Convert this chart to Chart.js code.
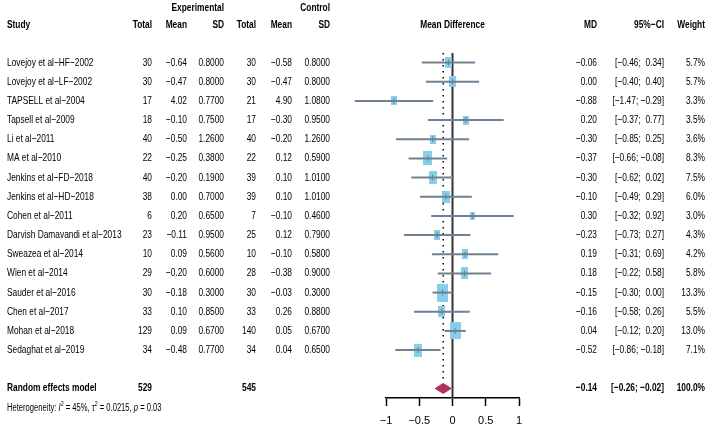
<!DOCTYPE html>
<html>
<head>
<meta charset="utf-8">
<script src="https://cdn.jsdelivr.net/npm/chart.js@4/dist/chart.umd.min.js"></script>
<style>
  body { margin: 0; background: #fff; }
  #wrap { width: 708px; height: 428px; }
</style>
</head>
<body>
<div id="wrap"><canvas id="forest" width="708" height="428"></canvas></div>
<script>
// study level data
const studies = ['Lovejoy et al\u2212HF\u22122002', 'Lovejoy et al\u2212LF\u22122002', 'TAPSELL et al\u22122004', 'Tapsell et al\u22122009',
  'Li et al\u22122011', 'MA et al\u22122010', 'Jenkins et al\u2212FD\u22122018', 'Jenkins et al\u2212HD\u22122018', 'Cohen et al\u22122011',
  'Darvish Damavandi et al\u22122013', 'Sweazea et al\u22122014', 'Wien et al\u22122014', 'Sauder et al\u22122016', 'Chen et al\u22122017',
  'Mohan et al\u22122018', 'Sedaghat et al\u22122019'];
const expTotal = [30, 30, 17, 18, 40, 22, 40, 38, 6, 23, 10, 29, 30, 33, 129, 34];
const expMean = [-0.64, -0.47, 4.02, -0.10, -0.50, -0.25, -0.20, 0.00, 0.20, -0.11, 0.09, -0.20, -0.18, 0.10, 0.09, -0.48];
const expSD = [0.80, 0.80, 0.77, 0.75, 1.26, 0.38, 0.19, 0.70, 0.65, 0.95, 0.56, 0.60, 0.30, 0.85, 0.67, 0.77];
const ctlTotal = [30, 30, 21, 17, 40, 22, 39, 39, 7, 25, 10, 28, 30, 33, 140, 34];
const ctlMean = [-0.58, -0.47, 4.90, -0.30, -0.20, 0.12, 0.10, 0.10, -0.10, 0.12, -0.10, -0.38, -0.03, 0.26, 0.05, 0.04];
const ctlSD = [0.80, 0.80, 1.08, 0.95, 1.26, 0.59, 1.01, 1.01, 0.46, 0.79, 0.58, 0.90, 0.30, 0.88, 0.67, 0.65];
const md = [-0.06, 0.00, -0.88, 0.20, -0.30, -0.37, -0.30, -0.10, 0.30, -0.23, 0.19, 0.18, -0.15, -0.16, 0.04, -0.52];
const ciLow = [-0.46, -0.40, -1.47, -0.37, -0.85, -0.66, -0.62, -0.49, -0.32, -0.73, -0.31, -0.22, -0.30, -0.58, -0.12, -0.86];
const ciHigh = [0.34, 0.40, -0.29, 0.77, 0.25, -0.08, 0.02, 0.29, 0.92, 0.27, 0.69, 0.58, 0.00, 0.26, 0.20, -0.18];
const weight = [5.7, 5.7, 3.3, 3.5, 3.6, 8.3, 7.5, 6.0, 3.0, 4.3, 4.2, 5.8, 13.3, 5.5, 13.0, 7.1];

// random effects summary
const pooledMD = -0.14;
const pooledLow = -0.26;
const pooledHigh = -0.02;
const xTicks = [-1, -0.5, 0, 0.5, 1];

const summaryRow = studies.length + 1;
const rows = studies.map((s, i) => i);

const FONT = '"Liberation Sans", Arial, sans-serif';
const SQUEEZE = 0.76; // the figure text is condensed
const ciColor = '#6f8192';
const boxColor = '#87ceeb';

const minus = s => s.replace(/-/g, '\u2212');
const f = (v, d) => minus(v.toFixed(d));
const ci = (lo, hi) => '[' + f(lo, 2) + '; ' + (hi >= 0 ? ' ' : '') + f(hi, 2) + ']';

// boxes are a bit taller than wide in the figure, so make little canvases for them
const boxImage = w => {
  const c = document.createElement('canvas');
  c.width = Math.max(3, Math.round(3.1 * Math.sqrt(w)));
  c.height = Math.max(4, Math.round(4.8 * Math.sqrt(w)));
  const g = c.getContext('2d');
  g.fillStyle = boxColor;
  g.fillRect(0, 0, c.width, c.height);
  return c;
};

// CI whiskers, one small line per study
const ciSets = rows.map(i => ({
  type: 'line',
  data: [{ x: ciLow[i], y: i }, { x: ciHigh[i], y: i }],
  borderColor: ciColor,
  borderWidth: 2,
  pointRadius: 0,
  clip: false,
  order: 1
}));

const textPlugin = {
  id: 'forestText',
  afterDraw(chart) {
    const ctx = chart.ctx;
    const y = chart.scales.y;
    const x = chart.scales.x;
    const put = (str, px, row, align, bold, size) => {
      ctx.save();
      ctx.font = (bold ? 'bold ' : '') + (size || 11) + 'px ' + FONT;
      ctx.textAlign = align;
      ctx.textBaseline = 'middle';
      ctx.fillStyle = '#000';
      ctx.translate(px, y.getPixelForValue(row));
      ctx.scale(SQUEEZE, 1);
      ctx.fillText(str, 0, 0);
      ctx.restore();
    };
    // headers
    put('Experimental', 224, -2.85, 'right', true);
    put('Control', 330, -2.85, 'right', true);
    put('Study', 7, -1.95, 'left', true);
    ['Total', 'Mean', 'SD'].forEach((h, k) => {
      put(h, [152, 187, 224][k], -1.95, 'right', true);
      put(h, [256, 292, 330][k], -1.95, 'right', true);
    });
    put('Mean Difference', x.getPixelForValue(0), -1.95, 'center', true);
    put('MD', 597, -1.95, 'right', true);
    put('95%\u2212CI', 664, -1.95, 'right', true);
    put('Weight', 705, -1.95, 'right', true);

    rows.forEach(i => {
      put(studies[i], 7, i, 'left');
      put(String(expTotal[i]), 152, i, 'right');
      put(f(expMean[i], 2), 187, i, 'right');
      put(f(expSD[i], 4), 224, i, 'right');
      put(String(ctlTotal[i]), 256, i, 'right');
      put(f(ctlMean[i], 2), 292, i, 'right');
      put(f(ctlSD[i], 4), 330, i, 'right');
      put(f(md[i], 2), 597, i, 'right');
      put(ci(ciLow[i], ciHigh[i]), 664, i, 'right');
      put(weight[i].toFixed(1) + '%', 705, i, 'right');
    });

    const totW = weight.reduce((a, b) => a + b, 0);
    put('Random effects model', 7, summaryRow, 'left', true);
    put(String(expTotal.reduce((a, b) => a + b, 0)), 152, summaryRow, 'right', true);
    put(String(ctlTotal.reduce((a, b) => a + b, 0)), 256, summaryRow, 'right', true);
    put(f(pooledMD, 2), 597, summaryRow, 'right', true);
    put(ci(pooledLow, pooledHigh), 664, summaryRow, 'right', true);
    put(Math.round(totW).toFixed(1) + '%', 705, summaryRow, 'right', true);

    // heterogeneity line with italics and superscripts
    ctx.save();
    ctx.translate(7, y.getPixelForValue(summaryRow + 1.05));
    ctx.scale(SQUEEZE, 1);
    ctx.fillStyle = '#000';
    ctx.textBaseline = 'middle';
    ctx.textAlign = 'left';
    let px = 0;
    const seg = (str, style, dy) => {
      ctx.font = style + ' ' + FONT;
      ctx.fillText(str, px, dy || 0);
      px += ctx.measureText(str).width;
    };
    seg('Heterogeneity: ', '10px');
    seg('I', 'italic 10px');
    seg('2', '7px', -4);
    seg(' = 45%, ', '10px');
    seg('\u03c4', '10px');
    seg('2', '7px', -4);
    seg(' = 0.0215, ', '10px');
    seg('p', 'italic 10px');
    seg(' = 0.03', '10px');
    ctx.restore();
  }
};

new Chart(document.getElementById('forest'), {
  type: 'scatter',
  data: {
    datasets: [
      {
        // line of no effect
        type: 'line',
        data: [{ x: 0, y: -0.5 }, { x: 0, y: 17.5 }],
        borderColor: '#333',
        borderWidth: 2,
        pointRadius: 0,
        order: 5
      },
      {
        // pooled estimate, dotted
        type: 'line',
        data: [{ x: pooledMD, y: -0.5 }, { x: pooledMD, y: summaryRow - 0.3 }],
        borderColor: '#000',
        borderWidth: 1.5,
        borderDash: [1.5, 4.5],
        pointRadius: 0,
        order: 5
      },
      ...ciSets,
      {
        // study boxes, area ~ weight
        data: rows.map(i => ({ x: md[i], y: i })),
        pointStyle: weight.map(boxImage),
        pointRadius: 5,
        order: 2
      },
      {
        data: rows.map(i => ({ x: md[i], y: i })),
        pointStyle: 'cross',
        pointRadius: 3,
        borderColor: ciColor,
        borderWidth: 1,
        order: 0
      },
      {
        // diamond, upper half
        type: 'line',
        data: [{ x: pooledLow, y: summaryRow }, { x: pooledMD, y: summaryRow - 0.26 }, { x: pooledHigh, y: summaryRow }],
        borderColor: '#b03060',
        borderWidth: 1,
        pointRadius: 0,
        order: 3
      },
      {
        // diamond, lower half filled to the upper half
        type: 'line',
        data: [{ x: pooledLow, y: summaryRow }, { x: pooledMD, y: summaryRow + 0.26 }, { x: pooledHigh, y: summaryRow }],
        borderColor: '#b03060',
        backgroundColor: '#b03060',
        borderWidth: 1,
        fill: '-1',
        pointRadius: 0,
        order: 3
      }
    ]
  },
  options: {
    responsive: false,
    animation: false,
    layout: { padding: { left: 386, right: 189, top: 53, bottom: 0 } },
    plugins: { legend: { display: false }, tooltip: { enabled: false } },
    scales: {
      x: {
        type: 'linear',
        min: -1,
        max: 1,
        afterBuildTicks: axis => { axis.ticks = xTicks.map(v => ({ value: v })); },
        afterFit: axis => { axis.height = 30; },
        ticks: {
          color: '#000',
          padding: 9,
          font: { family: FONT, size: 11, lineHeight: 1 },
          callback: v => minus(String(v))
        },
        grid: { drawOnChartArea: false, drawTicks: true, tickLength: 8, tickColor: '#000', tickWidth: 1.5 },
        border: { display: true, color: '#000', width: 1.5 }
      },
      y: {
        type: 'linear',
        display: false,
        reverse: true,
        min: -0.5,
        max: 17.5
      }
    }
  },
  plugins: [textPlugin]
});
</script>
</body>
</html>
